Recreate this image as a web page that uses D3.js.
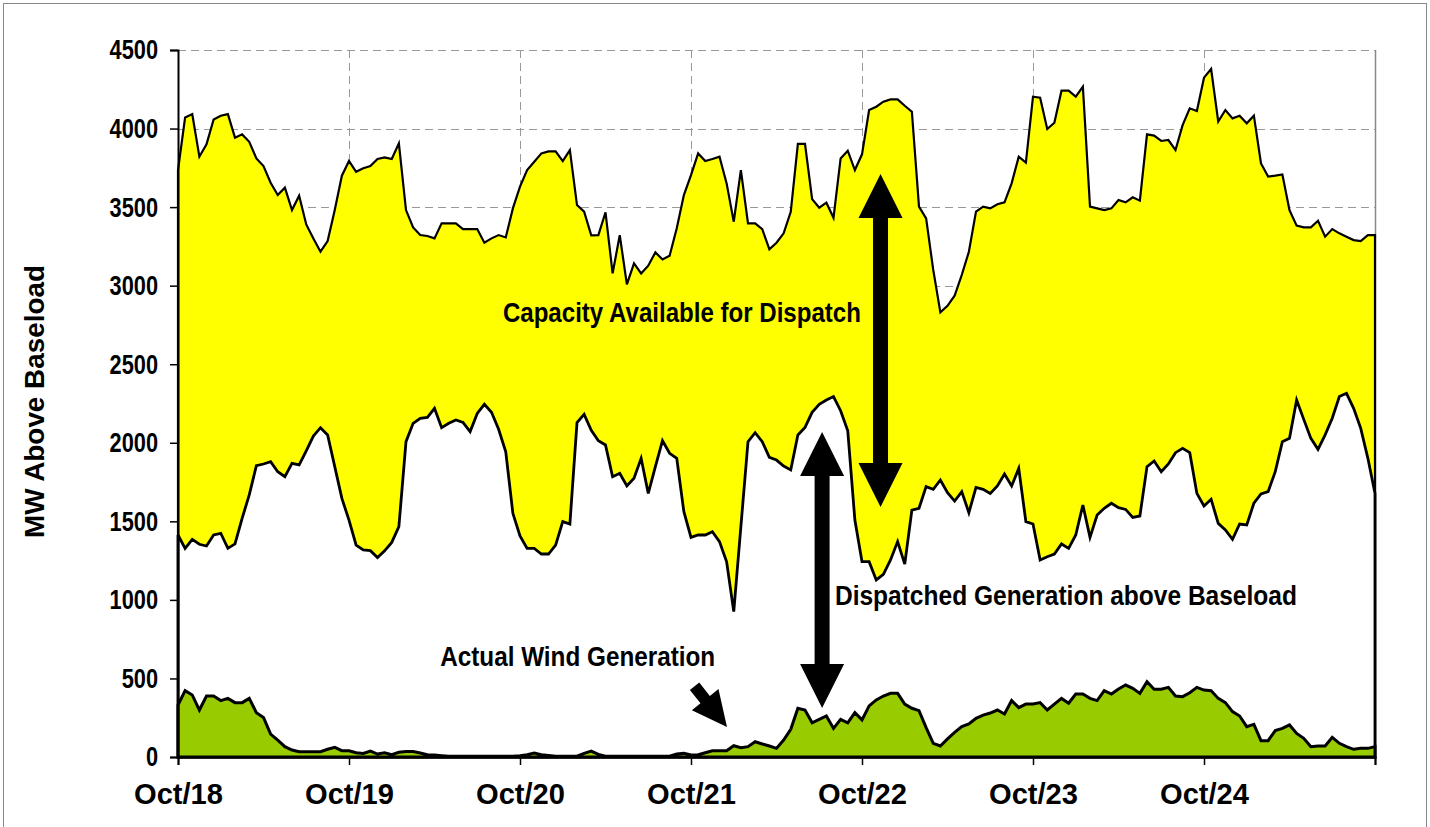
<!DOCTYPE html>
<html>
<head>
<meta charset="utf-8">
<script src="https://cdn.jsdelivr.net/npm/d3@7"></script>
<style>
  body { margin: 0; background: #fff; }
  text { font-family: 'Liberation Sans Narrow', 'Arial Narrow', 'Liberation Sans', Arial, sans-serif; font-weight: bold; }
</style>
</head>
<body>
<div id="chart"></div>
<script>
// hourly values, Oct/18 00:00 .. Oct/25 00:00
const dayLabels = ['Oct/18', 'Oct/19', 'Oct/20', 'Oct/21', 'Oct/22', 'Oct/23', 'Oct/24'];
const yTicks = [0, 500, 1000, 1500, 2000, 2500, 3000, 3500, 4000, 4500];

const capacity = [
  3736, 4071, 4092, 3821, 3899, 4058, 4082, 4092, 3942, 3963,
  3916, 3810, 3761, 3655, 3577, 3624, 3481, 3573, 3390, 3301,
  3216, 3284, 3481, 3700, 3793, 3725, 3747, 3761, 3806, 3817,
  3806, 3906, 3481, 3371, 3322, 3316, 3301, 3397, 3397, 3397,
  3360, 3360, 3360, 3273, 3301, 3322, 3307, 3492, 3630, 3736,
  3789, 3842, 3855, 3855, 3793, 3863, 3513, 3471, 3320, 3322,
  3467, 3078, 3322, 3008, 3142, 3078, 3127, 3212, 3167, 3191,
  3365, 3577, 3704, 3842, 3793, 3806, 3821, 3651, 3407, 3736,
  3397, 3397, 3360, 3231, 3273, 3333, 3470, 3902, 3902, 3551,
  3496, 3528, 3432, 3810, 3859, 3736, 3836, 4118, 4139, 4171,
  4186, 4186, 4145, 4107, 3503, 3428, 3100, 2830, 2872, 2936,
  3068, 3216, 3471, 3503, 3492, 3518, 3530, 3651, 3821, 3783,
  4203, 4196, 3997, 4037, 4241, 4241, 4203, 4266, 3503, 3492,
  3481, 3492, 3545, 3530, 3562, 3541, 3963, 3955, 3921, 3927,
  3863, 4022, 4129, 4112, 4324, 4379, 4044, 4118, 4065, 4082,
  4033, 4082, 3778, 3694, 3700, 3708, 3481, 3382, 3371, 3371,
  3413, 3312, 3360, 3333, 3312, 3290, 3284, 3322, 3322
];

const dispatched = [
  1413, 1328, 1385, 1354, 1343, 1413, 1424, 1328, 1356, 1519,
  1668, 1854, 1865, 1880, 1816, 1784, 1869, 1859, 1948, 2043,
  2096, 2050, 1848, 1646, 1508, 1349, 1318, 1313, 1270, 1312,
  1366, 1466, 2007, 2124, 2156, 2162, 2219, 2096, 2124, 2145,
  2130, 2071, 2187, 2245, 2194, 2086, 1943, 1551, 1407, 1328,
  1328, 1292, 1292, 1349, 1498, 1483, 2128, 2181, 2080, 2013,
  1986, 1784, 1806, 1725, 1774, 1901, 1678, 1848, 2013, 1933,
  1901, 1561, 1398, 1413, 1413, 1434, 1371, 1243, 925, 1466,
  2007, 2064, 2007, 1907, 1890, 1852, 1827, 2050, 2098, 2194,
  2245, 2272, 2294, 2204, 2077, 1508, 1243, 1243, 1127, 1163,
  1254, 1371, 1228, 1572, 1583, 1721, 1704, 1763, 1682, 1629,
  1689, 1555, 1716, 1704, 1678, 1725, 1801, 1725, 1837, 1498,
  1483, 1254, 1275, 1292, 1356, 1328, 1413, 1604, 1398, 1540,
  1583, 1615, 1587, 1576, 1525, 1534, 1848, 1884, 1816, 1865,
  1937, 1965, 1937, 1678, 1598, 1640, 1487, 1445, 1386, 1483,
  1477, 1615, 1674, 1689, 1816, 2007, 2028, 2272, 2149, 2028,
  1958, 2050, 2156, 2294, 2315, 2219, 2092, 1901, 1678
];

const wind = [
  331, 422, 395, 299, 388, 388, 359, 373, 346, 346,
  373, 282, 252, 146, 108, 66, 44, 34, 34, 34,
  34, 49, 61, 40, 40, 27, 23, 38, 19, 27,
  15, 30, 35, 35, 25, 15, 12, 8, 5, 5,
  5, 5, 5, 5, 5, 5, 5, 5, 8, 15,
  25, 15, 10, 5, 5, 5, 5, 23, 38, 17,
  5, 5, 5, 5, 5, 5, 5, 5, 5, 5,
  19, 23, 13, 15, 27, 40, 40, 40, 72, 59,
  66, 97, 83, 70, 55, 108, 176, 310, 299, 218,
  240, 261, 182, 240, 218, 282, 236, 325, 363, 388,
  405, 405, 337, 310, 295, 187, 87, 70, 115, 157,
  193, 210, 246, 267, 280, 299, 274, 359, 314, 337,
  337, 346, 299, 337, 373, 342, 401, 401, 373, 359,
  422, 401, 433, 458, 437, 405, 479, 431, 431, 443,
  388, 384, 409, 443, 426, 422, 373, 346, 289, 261,
  193, 208, 104, 104, 168, 182, 204, 150, 119, 66,
  70, 70, 125, 87, 66, 49, 55, 55, 66
];

const width = 1430, height = 827;
const x = d3.scaleLinear().domain([0, 168]).range([178, 1375]);
const y = d3.scaleLinear().domain([0, 4500]).range([757, 50]);

const svg = d3.select('#chart').append('svg')
  .attr('width', width)
  .attr('height', height);

// chart frame
svg.append('rect')
  .attr('x', 3.5).attr('y', 3.5)
  .attr('width', width - 7).attr('height', height - 2)
  .attr('fill', 'none').attr('stroke', '#888').attr('stroke-width', 1);

// grid
const grid = svg.append('g').attr('stroke', '#999').attr('stroke-width', 1).attr('stroke-dasharray', '8,5');
grid.selectAll('.hg').data(yTicks.filter(d => d > 0))
  .enter().append('line')
  .attr('x1', x(0)).attr('x2', x(168))
  .attr('y1', d => Math.round(y(d)) + 0.5).attr('y2', d => Math.round(y(d)) + 0.5);
grid.selectAll('.vg').data(d3.range(1, 7).map(i => i * 24))
  .enter().append('line')
  .attr('x1', d => Math.round(x(d)) + 0.5).attr('x2', d => Math.round(x(d)) + 0.5)
  .attr('y1', y(4500)).attr('y2', y(0));

// plot border (right side)
svg.append('line')
  .attr('x1', x(168) + 0.5).attr('x2', x(168) + 0.5)
  .attr('y1', y(4500)).attr('y2', y(0))
  .attr('stroke', '#888').attr('stroke-width', 1.5);

const hours = capacity.map((d, i) => i);

function areaPath(values) {
  const pts = values.map((v, i) => [x(hours[i]), y(v)]);
  pts.push([x(168), y(0)], [x(0), y(0)]);
  return d3.line()(pts) + 'Z';
}

// capacity available (yellow)
svg.append('path')
  .attr('d', areaPath(capacity))
  .attr('fill', '#ffff00')
  .attr('stroke', '#000')
  .attr('stroke-width', 2.2)
  .attr('stroke-linejoin', 'miter');

// dispatched generation above baseload (white)
svg.append('path')
  .attr('d', areaPath(dispatched))
  .attr('fill', '#fff')
  .attr('stroke', '#000')
  .attr('stroke-width', 2.8);

// actual wind generation (green)
svg.append('path')
  .attr('d', areaPath(wind))
  .attr('fill', '#99cc00')
  .attr('stroke', '#000')
  .attr('stroke-width', 3);

// axes
const yAxis = svg.append('g')
  .attr('transform', `translate(${x(0)},0)`)
  .call(d3.axisLeft(y).tickValues(yTicks).tickFormat(d3.format('d')).tickSize(8).tickPadding(12));
yAxis.select('.domain').attr('stroke-width', 2);
yAxis.selectAll('.tick line').attr('stroke-width', 1.5);
yAxis.selectAll('.tick text')
  .attr('font-size', 28)
  .attr('fill', '#000')
  .attr('textLength', d => String(d).length * 12.1)
  .attr('lengthAdjust', 'spacingAndGlyphs');

const xAxis = svg.append('g')
  .attr('transform', `translate(0,${y(0)})`)
  .call(d3.axisBottom(x).tickValues(d3.range(0, 8).map(i => i * 24)).tickSize(8).tickPadding(18)
    .tickFormat((d, i) => dayLabels[i] || ''));
xAxis.select('.domain').attr('stroke-width', 2);
xAxis.selectAll('.tick line').attr('stroke-width', 1.5);
xAxis.selectAll('.tick text')
  .attr('font-size', 29)
  .attr('fill', '#000')
  .attr('textLength', (d, i) => dayLabels[i] ? 89 : 0)
  .attr('lengthAdjust', 'spacingAndGlyphs');

// y axis title
svg.append('text')
  .attr('transform', `translate(44,${(265 + 538) / 2}) rotate(-90)`)
  .attr('text-anchor', 'middle')
  .attr('font-size', 28)
  .attr('textLength', 273)
  .attr('lengthAdjust', 'spacingAndGlyphs')
  .text('MW Above Baseload');

// annotations
const notes = [
  { text: 'Capacity Available for Dispatch', h: 45.6, v: 2769, w: 358 },
  { text: 'Dispatched Generation above Baseload', h: 92.2, v: 966, w: 462 },
  { text: 'Actual Wind Generation', h: 36.8, v: 581, w: 275 }
];
svg.selectAll('.note').data(notes).enter().append('text')
  .attr('x', d => x(d.h))
  .attr('y', d => y(d.v))
  .attr('font-size', 27)
  .attr('textLength', d => d.w)
  .attr('lengthAdjust', 'spacingAndGlyphs')
  .text(d => d.text);

// double headed arrows
const arrows = [
  { h: 98.6, top: 3711, bottom: 1591 },
  { h: 90.4, top: 2069, bottom: 312 }
];
svg.selectAll('.darrow').data(arrows).enter().append('path')
  .attr('fill', '#000')
  .attr('d', d => {
    const cx = x(d.h), t = y(d.top), b = y(d.bottom);
    const hw = 22, hl = 44, sw = 7.5;
    return d3.line()([
      [cx, t], [cx + hw, t + hl], [cx + sw, t + hl], [cx + sw, b - hl], [cx + hw, b - hl],
      [cx, b], [cx - hw, b - hl], [cx - sw, b - hl], [cx - sw, t + hl], [cx - hw, t + hl]
    ]) + 'Z';
  });

// small arrow pointing at wind
const pointer = { fromH: 72.5, fromV: 450, toH: 77.05, toV: 191 };
(function () {
  const x0 = x(pointer.fromH), y0 = y(pointer.fromV), x1 = x(pointer.toH), y1 = y(pointer.toV);
  const len = Math.hypot(x1 - x0, y1 - y0);
  const ux = (x1 - x0) / len, uy = (y1 - y0) / len, nx = -uy, ny = ux;
  const hl = 35, hw = 17, sw = 6;
  const bx = x1 - ux * hl, by = y1 - uy * hl;
  svg.append('path').attr('fill', '#000').attr('d', d3.line()([
    [x0 + nx * sw, y0 + ny * sw], [bx + nx * sw, by + ny * sw], [bx + nx * hw, by + ny * hw],
    [x1, y1], [bx - nx * hw, by - ny * hw], [bx - nx * sw, by - ny * sw], [x0 - nx * sw, y0 - ny * sw]
  ]) + 'Z');
})();
</script>
</body>
</html>
